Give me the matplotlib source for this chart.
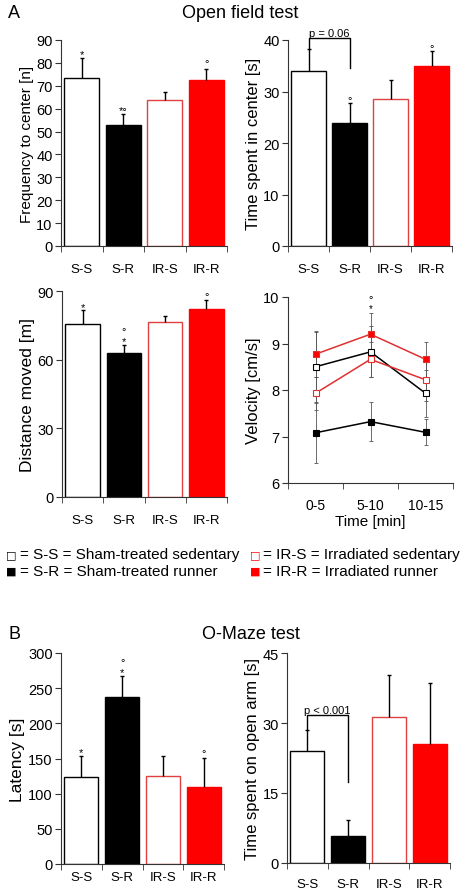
import matplotlib.pyplot as plt
import numpy as np

plt.rcParams['font.family'] = ['Liberation Sans', 'DejaVu Sans']

groups = ['S-S', 'S-R', 'IR-S', 'IR-R']
times = ['0-5', '5-10', '10-15']

# Open field test
freq = [73.5, 53, 64, 72.5]
freq_err = [8.5, 4.5, 3.5, 5]
center_time = [34, 23.8, 28.6, 35]
center_err = [4.3, 3.9, 3.7, 2.8]
distance = [75.5, 63, 76.5, 82]
distance_err = [6, 3.5, 2.5, 4]

# velocity per time bin
vel_ss = [8.5, 8.82, 7.93]
vel_sr = [7.08, 7.32, 7.09]
vel_irs = [7.93, 8.66, 8.22]
vel_irr = [8.77, 9.2, 8.66]
vel_ss_err = [0.75, 0.55, 0.5]
vel_sr_err = [0.65, 0.42, 0.28]
vel_irs_err = [0.36, 0.38, 0.45]
vel_irr_err = [0.5, 0.45, 0.38]

# O-Maze test
latency = [124, 238, 125, 110]
latency_err = [30, 30, 29, 41]
open_arm = [24, 5.8, 31.3, 25.6]
open_arm_err = [4.5, 3.4, 9, 12.9]

RED = '#ff0000'
face = ['white', 'black', 'white', RED]
edge = ['black', 'black', '#e04040', RED]

W, H = 470, 895
fig = plt.figure(figsize=(W / 100, H / 100), dpi=100)


def make_ax(x0, x1, ytop, ybot):
    return fig.add_axes([x0 / W, 1 - ybot / H, (x1 - x0) / W, (ybot - ytop) / H])


def style(ax):
    for s in ['top', 'right']:
        ax.spines[s].set_visible(False)
    for s in ['left', 'bottom']:
        ax.spines[s].set_color('#333333')
    ax.tick_params(axis='y', labelsize=10.5, length=4, color='#333333', pad=2)


def bar_panel(ax, vals, errs, ymax, yticks, ylabel, lab_size, lab_pad=12):
    x = np.arange(len(groups))
    ax.bar(x, vals, width=0.84, color=face, edgecolor=edge, linewidth=1)
    tops = np.array(vals) + np.array(errs)
    ax.vlines(x, vals, tops, color='black', linewidth=1)
    ax.plot(x, tops, ls='none', marker='_', color='black', ms=3, mew=1)
    ax.set_xlim(-0.5, 3.5)
    ax.set_ylim(0, ymax)
    ax.set_yticks(yticks)
    ax.set_xticks(x)
    ax.set_xticklabels(groups, fontsize=9.5)
    ax.set_xticks(np.arange(-0.5, 4, 1), minor=True)
    ax.tick_params(axis='x', which='major', length=0, pad=lab_pad)
    ax.tick_params(axis='x', which='minor', length=4, color='#333333')
    ax.set_ylabel(ylabel, fontsize=lab_size, labelpad=2)
    style(ax)
    return tops


def mark(ax, x, y, s, size=8):
    ax.text(x, y, s, ha='center', va='bottom', fontsize=size)


def bracket(ax, y, yl, yr, label):
    ax.plot([0, 0, 1, 1], [yl, y, y, yr], color='black', lw=1, clip_on=False)
    ax.text(0.5, y, label, ha='center', va='bottom', fontsize=8)


# A: frequency to center
ax1 = make_ax(61, 227, 41, 247)
t = bar_panel(ax1, freq, freq_err, 90, range(0, 91, 10), 'Frequency to center [n]', 11)
mark(ax1, 0, t[0] - 0.5, '*')
mark(ax1, 1, t[1] - 0.5, '*°')
mark(ax1, 3, t[3], '°')

# A: time spent in center
ax2 = make_ax(288, 452, 41, 247)
t = bar_panel(ax2, center_time, center_err, 40, range(0, 41, 10), 'Time spent in center [s]', 12)
bracket(ax2, 40.3, 38.3, 34.6, 'p = 0.06')
mark(ax2, 1, t[1] - 0.3, '°')
mark(ax2, 3, t[3] - 0.3, '°')

# A: distance moved
ax3 = make_ax(62, 227, 292, 498)
t = bar_panel(ax3, distance, distance_err, 90, [0, 30, 60, 90], 'Distance moved [m]', 12.5)
mark(ax3, 0, t[0] - 0.5, '*')
mark(ax3, 1, t[1] - 0.5, '*')
mark(ax3, 1, t[1] + 3.8, '°')
mark(ax3, 3, t[3] - 0.5, '°')

# A: velocity
ax4 = make_ax(288, 453, 298, 484)
xt = np.arange(len(times))
series = [
    (vel_ss, vel_ss_err, 'black', 'white'),
    (vel_sr, vel_sr_err, 'black', 'black'),
    (vel_irs, vel_irs_err, '#e03030', 'white'),
    (vel_irr, vel_irr_err, '#e03030', RED),
]
for v, e, c, fc in series:
    ax4.errorbar(xt, v, yerr=e, fmt='none', ecolor='#555555', elinewidth=0.6, capsize=1.5, capthick=0.6)
for v, e, c, fc in series:
    ax4.plot(xt, v, color=c, lw=1.1, marker='s', ms=4, mfc=fc, mec=c, mew=0.8)
ax4.text(1, 9.66, '*', ha='center', va='bottom', fontsize=7)
ax4.text(1, 9.84, '°', ha='center', va='bottom', fontsize=8)
ax4.set_xlim(-0.5, 2.5)
ax4.set_ylim(6, 10)
ax4.set_yticks([6, 7, 8, 9, 10])
ax4.set_xticks(xt)
ax4.set_xticklabels(times, fontsize=10)
ax4.set_xticks(np.arange(-0.5, 3, 1), minor=True)
ax4.tick_params(axis='x', which='major', length=0, pad=11)
ax4.tick_params(axis='x', which='minor', length=4, color='#333333')
ax4.set_ylabel('Velocity [cm/s]', fontsize=12, labelpad=2)
ax4.set_xlabel('Time [min]', fontsize=11, labelpad=1)
style(ax4)

# legend
sq = dict(fontsize=8, va='center', family='DejaVu Sans')
fig.text(6 / W, 1 - 555 / H, '□', color='black', **sq)
fig.text(20 / W, 1 - 555 / H, '= S-S = Sham-treated sedentary', fontsize=11, va='center')
fig.text(6 / W, 1 - 572 / H, '■', color='black', **sq)
fig.text(20 / W, 1 - 572 / H, '= S-R = Sham-treated runner', fontsize=11, va='center')
fig.text(250 / W, 1 - 555 / H, '□', color=RED, **sq)
fig.text(263 / W, 1 - 555 / H, '= IR-S = Irradiated sedentary', fontsize=11, va='center')
fig.text(250 / W, 1 - 572 / H, '■', color=RED, **sq)
fig.text(263 / W, 1 - 572 / H, '= IR-R = Irradiated runner', fontsize=11, va='center')

# titles
fig.text(8 / W, 1 - 13 / H, 'A', fontsize=13, va='center')
fig.text(240 / W, 1 - 13 / H, 'Open field test', fontsize=13, va='center', ha='center')
fig.text(8 / W, 1 - 635 / H, 'B', fontsize=13, va='center')
fig.text(251 / W, 1 - 635 / H, 'O-Maze test', fontsize=13, va='center', ha='center')

# B: latency
ax5 = make_ax(61, 224, 654, 865)
t = bar_panel(ax5, latency, latency_err, 300, range(0, 301, 50), 'Latency [s]', 12.5, 5)
mark(ax5, 0, t[0] - 2, '*')
mark(ax5, 1, t[1] - 2, '*')
mark(ax5, 1, t[1] + 12, '°')
mark(ax5, 3, t[3] - 1, '°')

# B: time on open arm
ax6 = make_ax(287, 450, 654, 864)
bar_panel(ax6, open_arm, open_arm_err, 45, [0, 15, 30, 45], 'Time spent on open arm [s]', 12, 11)
bracket(ax6, 31.7, 28.5, 17.4, 'p < 0.001')

fig.savefig('out.png', dpi=100)
